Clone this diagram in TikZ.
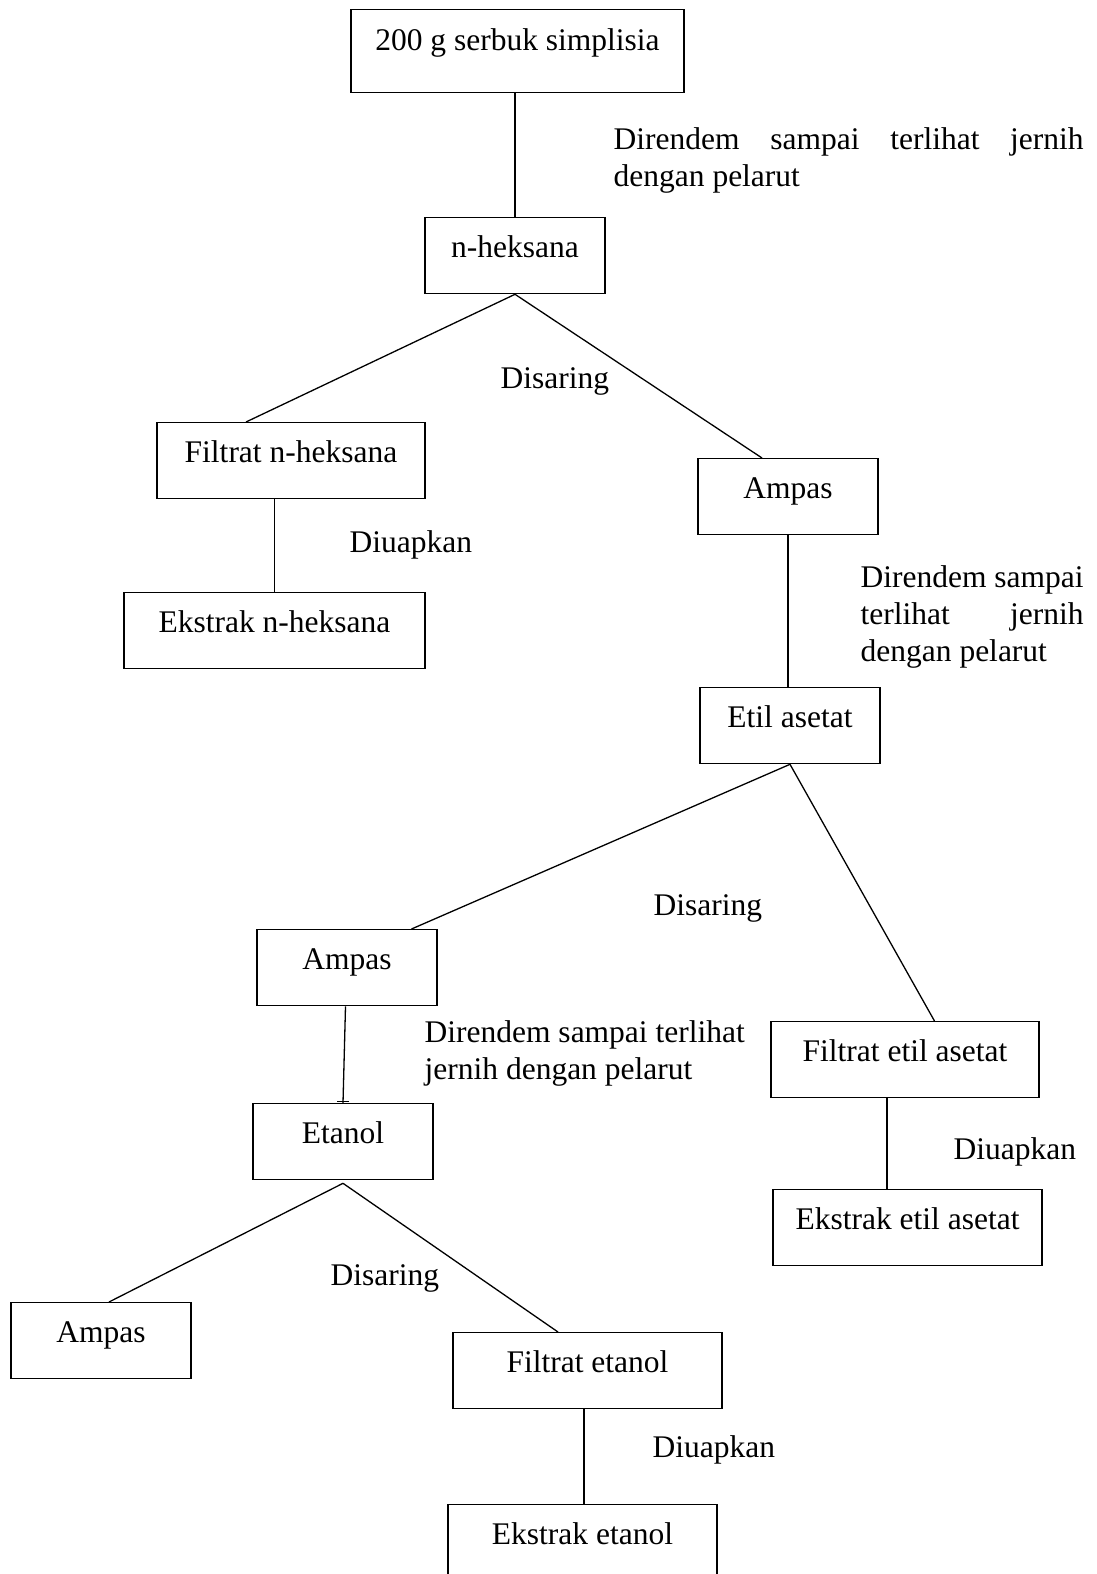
\documentclass[tikz,border=0pt]{standalone}
\usepackage{fontspec}
\setmainfont{Liberation Serif}
\hyphenpenalty=10000
\tolerance=9999
\begin{document}
\begin{tikzpicture}[
  x=1pt, y=-1pt,
  line width=1.3pt,
  font=\fontsize{31.5}{36.8}\selectfont,
  box/.style={draw, anchor=north, inner sep=0pt, text height=40pt, text depth=36pt},
  note/.style={inner sep=0pt, anchor=base west},
  para/.style={inner sep=0pt, anchor=north west}
]
\useasboundingbox (0,0) rectangle (1096,1574);
\clip (0,0) rectangle (1096,1574);

% boxes
\node[box, minimum width=333pt, text height=41pt, text depth=42pt] (start) at (517.5,9) {200 g serbuk simplisia};
\node[box, minimum width=180pt] (nhek) at (515,217) {n-heksana};
\node[box, minimum width=268pt] (filnhek) at (291,422) {Filtrat n-heksana};
\node[box, minimum width=180pt] (ampasA) at (788,458) {Ampas};
\node[box, minimum width=301pt] (eksnhek) at (274.5,592) {Ekstrak n-heksana};
\node[box, minimum width=180pt] (etil) at (790,687) {Etil asetat};
\node[box, minimum width=180pt] (ampasB) at (347,929) {Ampas};
\node[box, minimum width=268pt] (filetil) at (905,1021) {Filtrat etil asetat};
\node[box, minimum width=180pt] (etanol) at (343,1103) {Etanol};
\node[box, minimum width=269pt] (eksetil) at (907.5,1189) {Ekstrak etil asetat};
\node[box, minimum width=180pt] (ampasC) at (101,1302) {Ampas};
\node[box, minimum width=269pt] (filetanol) at (587.5,1332) {Filtrat etanol};
\node[box, minimum width=269pt] (eksetanol) at (582.5,1504) {Ekstrak etanol};

% steps
\node[para, text width=470pt, align=justify] (rendamA) at (613,127) {Direndem sampai terlihat jernih dengan pelarut};
\node[note] (saringA) at (500,388) {Disaring};
\node[note] (uapA) at (349,552) {Diuapkan};
\node[para, text width=223pt, align=justify] (rendamB) at (860,565) {Direndem sampai terlihat jernih dengan pelarut};
\node[note] (saringB) at (653,915) {Disaring};
\node[para, align=left] (rendamC) at (424,1020) {Direndem sampai terlihat\\jernih dengan pelarut};
\node[note] (uapB) at (953,1159) {Diuapkan};
\node[note] (saringC) at (330,1285) {Disaring};
\node[note] (uapC) at (652,1457) {Diuapkan};

% lines
\coordinate (apexC) at ([yshift=-3pt]etanol.south);
\coordinate (dropB) at ([xshift=-18pt]filetil.south);
\coordinate (dropC) at ([xshift=-3.5pt]filetanol.south);
\draw (nhek.north |- start.south) -- (nhek.north);
\draw (nhek.south) -- ([xshift=-45pt]filnhek.north);
\draw (nhek.south) -- ([xshift=-26pt]ampasA.north);
\draw (filnhek.south -| eksnhek.north) -- (eksnhek.north);
\draw (ampasA.south) -- (ampasA.south |- etil.north);
\draw (etil.south) -- ([xshift=64.5pt]ampasB.north);
\draw (etil.south) -- ([xshift=29.5pt]filetil.north);
\draw ([xshift=-1.5pt]ampasB.south) -- (etanol.north);
\draw ([xshift=-6pt,yshift=1.5pt]etanol.north) -- ([xshift=6pt,yshift=1.5pt]etanol.north);
\draw (dropB) -- (dropB |- eksetil.north);
\draw (apexC) -- ([xshift=8pt]ampasC.north);
\draw (apexC) -- ([xshift=-29.5pt]filetanol.north);
\draw (dropC) -- (dropC |- eksetanol.north);
\end{tikzpicture}
\end{document}
